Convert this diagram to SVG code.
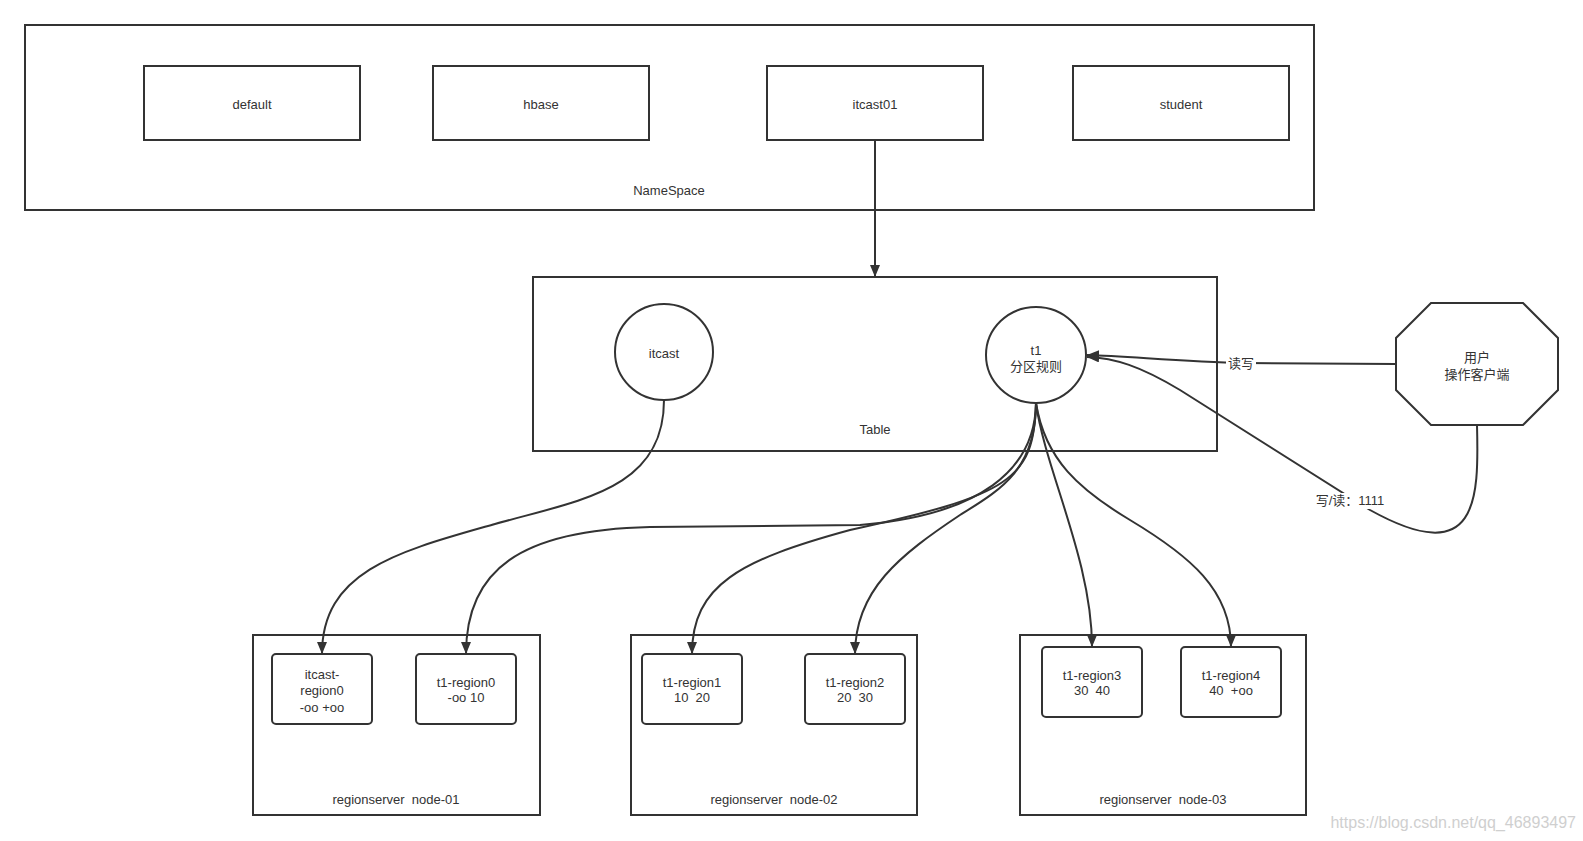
<svg xmlns="http://www.w3.org/2000/svg" width="1583" height="841" viewBox="0 0 1583 841">
<style>
.box{fill:#fff;stroke:#333;stroke-width:2}
.rb{fill:#fff;stroke:#333;stroke-width:2}
.t{font-family:"Liberation Sans","Noto Sans CJK SC",sans-serif;font-size:13px;fill:#333;text-anchor:middle;white-space:pre}
.ln{fill:none;stroke:#333;stroke-width:2}
.lbg{fill:#fff}
.wm{font-family:"Liberation Sans","Noto Sans CJK SC",sans-serif;font-size:16px;fill:#cfcfcf;text-anchor:end}
</style>
<defs>
<marker id="arr" markerUnits="userSpaceOnUse" markerWidth="14" markerHeight="12" refX="12" refY="5" orient="auto">
<path d="M0,0 L12,5 L0,10 Z" fill="#333"/>
</marker>
</defs>
<rect width="1583" height="841" fill="#fff"/>

<g id="namespace">
<rect class="box" x="25" y="25" width="1289" height="185"/>
<text class="t" x="669" y="195">NameSpace</text>
</g>
<g id="default">
<rect class="box" x="144" y="66" width="216" height="74"/>
<text class="t" x="252" y="109">default</text>
</g>
<g id="hbase">
<rect class="box" x="433" y="66" width="216" height="74"/>
<text class="t" x="541" y="109">hbase</text>
</g>
<g id="itcast01">
<rect class="box" x="767" y="66" width="216" height="74"/>
<text class="t" x="875" y="109">itcast01</text>
</g>
<g id="student">
<rect class="box" x="1073" y="66" width="216" height="74"/>
<text class="t" x="1181" y="109">student</text>
</g>

<g id="table">
<rect class="box" x="533" y="277" width="684" height="174"/>
<text class="t" x="875" y="434">Table</text>
</g>
<g id="itcast">
<ellipse class="box" cx="664" cy="352" rx="49" ry="48"/>
<text class="t" x="664" y="358">itcast</text>
</g>
<g id="t1">
<ellipse class="box" cx="1036" cy="355" rx="50" ry="48"/>
<text class="t" x="1036" y="355">t1</text>
<text class="t" x="1036" y="371">分区规则</text>
</g>
<g id="client">
<polygon class="box" points="1431,303 1523,303 1558,338 1558,390 1523,425 1431,425 1396,390 1396,338"/>
<text class="t" x="1477" y="362">用户</text>
<text class="t" x="1477" y="379">操作客户端</text>
</g>

<g id="node-01">
<rect class="box" x="253" y="635" width="287" height="180"/>
<text class="t" x="396" y="804">regionserver  node-01</text>
</g>
<g id="itcast-region0">
<rect class="rb" x="272" y="654" width="100" height="70" rx="4"/>
<text class="t" x="322" y="679">itcast-</text>
<text class="t" x="322" y="695">region0</text>
<text class="t" x="322" y="712">-oo +oo</text>
</g>
<g id="t1-region0">
<rect class="rb" x="416" y="654" width="100" height="70" rx="4"/>
<text class="t" x="466" y="687">t1-region0</text>
<text class="t" x="466" y="702">-oo 10</text>
</g>

<g id="node-02">
<rect class="box" x="631" y="635" width="286" height="180"/>
<text class="t" x="774" y="804">regionserver  node-02</text>
</g>
<g id="t1-region1">
<rect class="rb" x="642" y="654" width="100" height="70" rx="4"/>
<text class="t" x="692" y="687">t1-region1</text>
<text class="t" x="692" y="702">10  20</text>
</g>
<g id="t1-region2">
<rect class="rb" x="805" y="654" width="100" height="70" rx="4"/>
<text class="t" x="855" y="687">t1-region2</text>
<text class="t" x="855" y="702">20  30</text>
</g>

<g id="node-03">
<rect class="box" x="1020" y="635" width="286" height="180"/>
<text class="t" x="1163" y="804">regionserver  node-03</text>
</g>
<g id="t1-region3">
<rect class="rb" x="1042" y="647" width="100" height="70" rx="4"/>
<text class="t" x="1092" y="680">t1-region3</text>
<text class="t" x="1092" y="695">30  40</text>
</g>
<g id="t1-region4">
<rect class="rb" x="1181" y="647" width="100" height="70" rx="4"/>
<text class="t" x="1231" y="680">t1-region4</text>
<text class="t" x="1231" y="695">40  +oo</text>
</g>

<g id="connectors">
<path class="ln" marker-end="url(#arr)" d="M875 141 L875 277"/>
<path class="ln" marker-end="url(#arr)" d="M664 400 C664 490 580 500 495 524 C400 551 322 570 322 654"/>
<path class="ln" marker-end="url(#arr)" d="M1036 403 C1035 470 980 515 860 525 L650 527 C520 530 466 570 466 654"/>
<path class="ln" marker-end="url(#arr)" d="M1036 403 C1034 480 1010 495 850 530 C740 560 692 585 692 654"/>
<path class="ln" marker-end="url(#arr)" d="M1036 403 C1036 470 1000 490 960 515 C900 555 855 590 855 654"/>
<path class="ln" marker-end="url(#arr)" d="M1036 403 C1045 470 1092 560 1092 647"/>
<path class="ln" marker-end="url(#arr)" d="M1036 403 C1045 460 1080 490 1130 520 C1190 556 1231 590 1231 647"/>
<path class="ln" marker-end="url(#arr)" d="M1396 364 L1245 363 C1180 362 1130 356 1087 355"/>
<path class="ln" marker-end="url(#arr)" d="M1477 425 C1479 500 1478 570 1370 510 L1180 390 C1140 366 1115 358 1087 357"/>
<rect class="lbg" x="1226" y="356" width="30" height="16"/>
<text class="t" x="1241" y="368">读写</text>
<rect class="lbg" x="1313" y="493" width="74" height="16"/>
<text class="t" x="1350" y="505">写/读：1111</text>
</g>

<text class="wm" x="1576" y="828">https://blog.csdn.net/qq_46893497</text>
</svg>
